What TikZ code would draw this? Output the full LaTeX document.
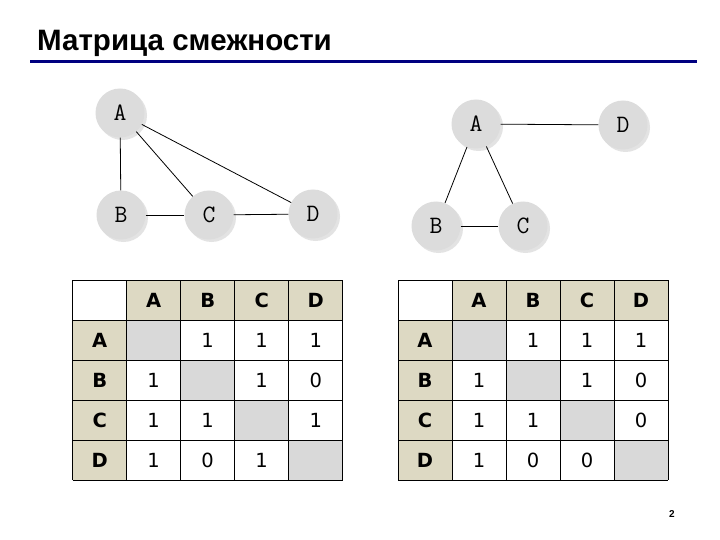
\documentclass[tikz,border=0pt]{standalone}
\usepackage{fontspec}
\setmainfont{Liberation Sans}
\newfontfamily\cellfont{DejaVu Sans}
\usetikzlibrary{shadows}
\definecolor{navyline}{HTML}{000080}
\definecolor{tanhead}{HTML}{DDD9C3}
\definecolor{diagcell}{HTML}{D9D9D9}
\definecolor{vfill}{HTML}{DCDCDC}
\begin{document}
\begin{tikzpicture}[x=1pt,y=-1pt,
  vert/.style={circle, fill=vfill, minimum size=49pt, inner sep=0pt,
    font=\ttfamily\fontsize{25}{25}\selectfont,
    general shadow={fill=gray!22, shadow xshift=2.5pt, shadow yshift=-2.5pt}},
  edge/.style={draw=black, line width=0.8pt},
  gridline/.style={draw=black, line width=0.9pt},
  headtxt/.style={font=\cellfont\bfseries\fontsize{19.5}{19.5}\selectfont},
  valtxt/.style={font=\cellfont\fontsize{19.5}{19.5}\selectfont}]
\useasboundingbox (0,0) rectangle (720,540);
\fill[white] (0,0) rectangle (720,540);

% title
\node[anchor=base west, inner sep=0pt, font=\bfseries\fontsize{29.5}{29.5}\selectfont] (title) at (37,51) {Матрица смежности};
\draw[navyline, line width=3pt] (30,62) -- (697,62);

% graph 1
\node[vert] (gA) at (120,113) {A};
\node[vert] (gB) at (121,215) {B};
\node[vert] (gC) at (209,215) {C};
\node[vert] (gD) at (313,214) {D};
\draw[edge] (gA) -- (gB);
\draw[edge] (gA) -- (gC);
\draw[edge] (gA) -- (gD);
\draw[edge] (gB) -- (gC);
\draw[edge] (gC) -- (gD);

% graph 2
\node[vert] (hA) at (476,124) {A};
\node[vert] (hD) at (623,125) {D};
\node[vert] (hB) at (436,226) {B};
\node[vert] (hC) at (523,226) {C};
\draw[edge] (hA) -- (hD);
\draw[edge] (hA) -- (hB);
\draw[edge] (hA) -- (hC);
\draw[edge] (hB) -- (hC);

% table 1
\begin{scope}[shift={(72.7,0)}]
  \fill[tanhead] (54,280) rectangle (270,320);
  \fill[tanhead] (0,320) rectangle (54,480);
  \foreach \i in {1,...,4} \fill[diagcell] (54*\i,280+40*\i) rectangle +(54,40);
  \foreach \i in {0,...,5} \draw[gridline] (54*\i,280) -- (54*\i,480);
  \foreach \i in {0,...,5} \draw[gridline] (0,280+40*\i) -- (270,280+40*\i);
  \foreach \i/\l in {1/A,2/B,3/C,4/D} {
    \node[headtxt] (LH\l) at (54*\i+27,300) {\l};
    \node[headtxt] (LR\l) at (27,300+40*\i) {\l};
  }
  \foreach \r/\c/\v in {1/2/1,1/3/1,1/4/1,2/1/1,2/3/1,2/4/0,3/1/1,3/2/1,3/4/1,4/1/1,4/2/0,4/3/1}
    \node[valtxt] (LV\r\c) at (54*\c+27,300+40*\r) {\v};
\end{scope}

% table 2
\begin{scope}[shift={(398,0)}]
  \fill[tanhead] (54,280) rectangle (270,320);
  \fill[tanhead] (0,320) rectangle (54,480);
  \foreach \i in {1,...,4} \fill[diagcell] (54*\i,280+40*\i) rectangle +(54,40);
  \foreach \i in {0,...,5} \draw[gridline] (54*\i,280) -- (54*\i,480);
  \foreach \i in {0,...,5} \draw[gridline] (0,280+40*\i) -- (270,280+40*\i);
  \foreach \i/\l in {1/A,2/B,3/C,4/D} {
    \node[headtxt] (RH\l) at (54*\i+27,300) {\l};
    \node[headtxt] (RR\l) at (27,300+40*\i) {\l};
  }
  \foreach \r/\c/\v in {1/2/1,1/3/1,1/4/1,2/1/1,2/3/1,2/4/0,3/1/1,3/2/1,3/4/0,4/1/1,4/2/0,4/3/0}
    \node[valtxt] (RV\r\c) at (54*\c+27,300+40*\r) {\v};
\end{scope}

\node[font=\bfseries\fontsize{10}{10}\selectfont] (pg) at (672,514) {2};
\end{tikzpicture}
\end{document}
